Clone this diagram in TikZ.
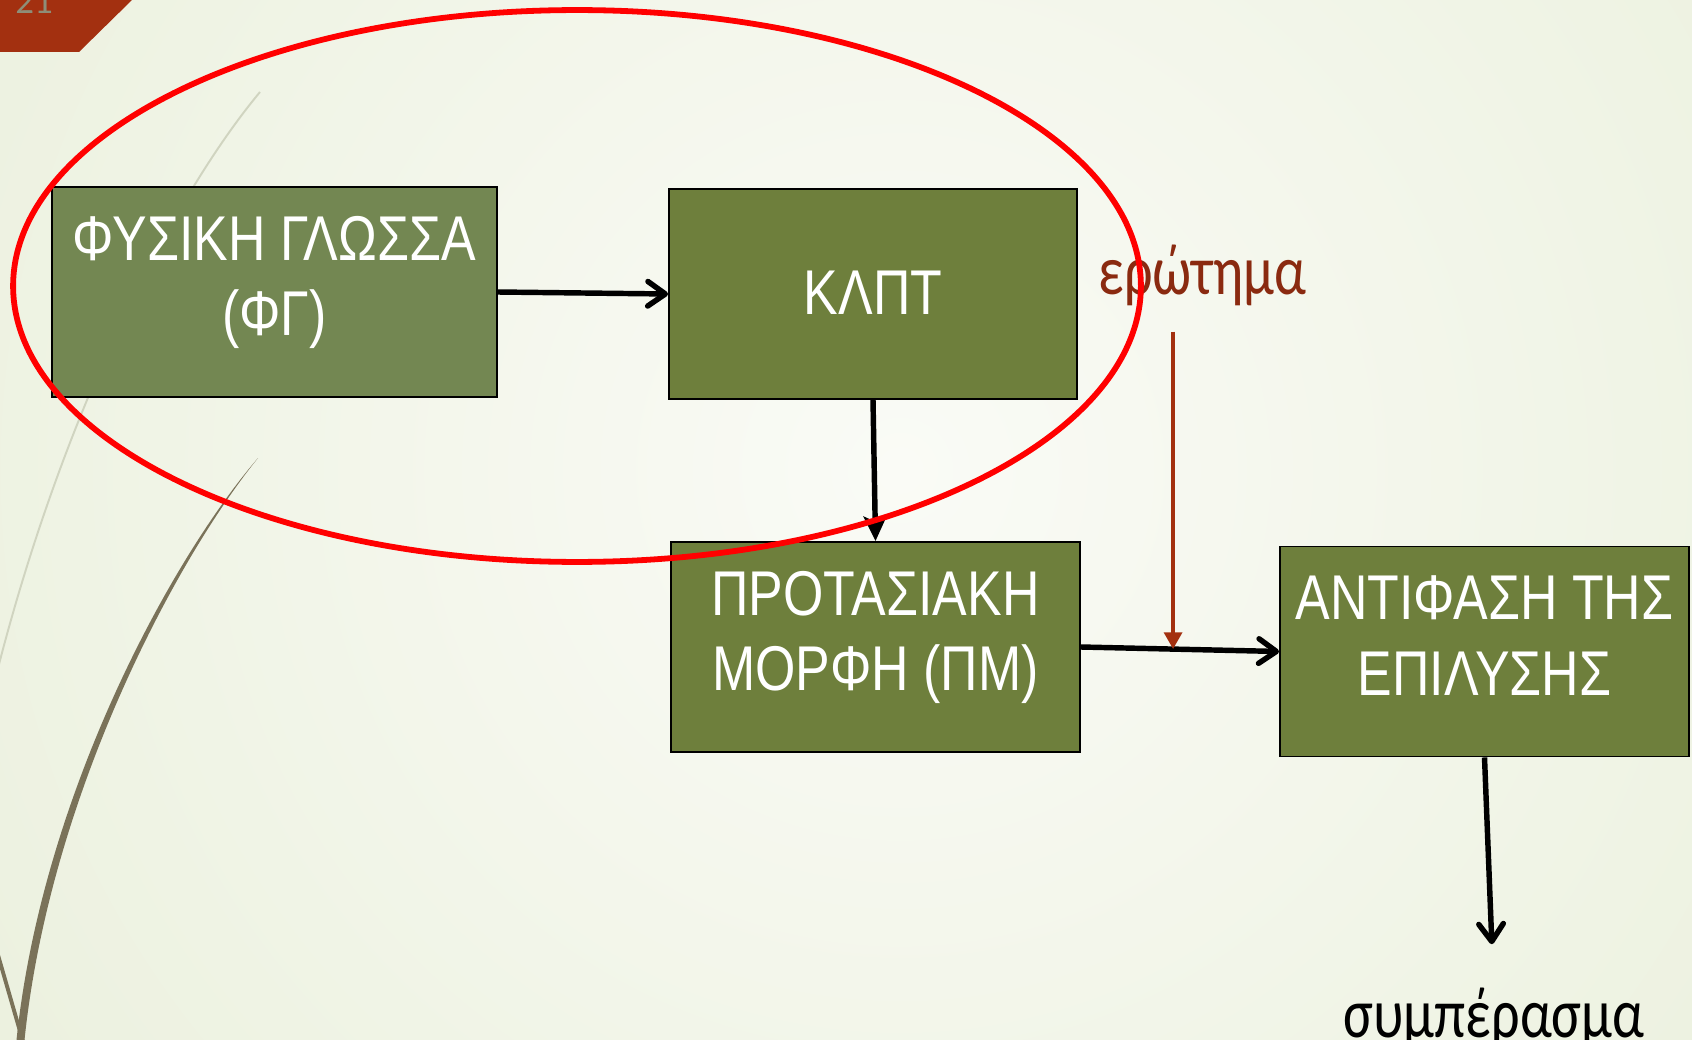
\documentclass[tikz,border=0pt]{standalone}
\usepackage{fontspec}
\setmainfont{Liberation Sans}
\newfontfamily\narrowsans[FakeStretch=0.82]{Liberation Sans}
\newfontfamily\labelsans[FakeStretch=0.8]{Carlito}
\newfontfamily\pagesans{Carlito}
\usetikzlibrary{arrows.meta,calc}

\definecolor{bgin}{HTML}{FAFBF6}
\definecolor{bgout}{HTML}{E2EACF}
\definecolor{boxgreen}{HTML}{6E7F3C}
\definecolor{boxgreenlight}{HTML}{738752}
\definecolor{cornerred}{HTML}{A33010}
\definecolor{askred}{HTML}{A3300F}
\definecolor{asktext}{HTML}{8A2A10}
\definecolor{stem}{HTML}{7A7259}
\definecolor{stemlight}{HTML}{D0D4C0}
\definecolor{pagegray}{HTML}{8E8E78}

\tikzset{
  stagebox/.style={draw=black, line width=1.1pt, fill=boxgreen, text=white,
    font=\narrowsans\fontsize{36}{43}\selectfont, align=center, inner sep=0pt,
    minimum height=4.2cm, text height=2.46cm, text depth=0.7cm},
  oneline/.style={text height=1cm, text depth=0.16cm},
  conn/.style={line width=3.1pt,
    -{Straight Barb[length=10pt,width=14pt,line cap=round,line join=round]}},
  connfilled/.style={line width=3.1pt, -{Stealth[length=14pt,width=13pt,inset=3pt]}},
  askarrow/.style={draw=askred, line width=2.7pt,
    -{Triangle[length=9.5pt,width=10pt]}},
  sidetext/.style={font=\labelsans\fontsize{40}{48}\selectfont, inner sep=0pt},
}

\begin{document}
\begin{tikzpicture}[x=0.02cm, y=-0.02cm]
\useasboundingbox (0,0) rectangle (1692,1040);

% background
\fill[bgout] (0,0) rectangle (1692,1040);
\begin{scope}
  \clip (0,0) rectangle (1692,1040);
  \shade[inner color=bgin, outer color=bgout] (900,470) circle (36cm);
  % decorative stems
  \draw[stemlight, line width=1.1pt] (260,92) .. controls (170,200) and (60,420) .. (-5,680);
  \fill[stem] (258,458) .. controls (170,560) and (40,800) .. (16,1045)
    -- (24,1045) .. controls (48,800) and (174,562) .. (258,458) -- cycle;
  \draw[stem, line width=2.2pt] (-2,955) -- (24,1045);
  % page tab
  \fill[cornerred] (0,0) -- (132,0) -- (79,52) -- (0,52) -- cycle;
  \node[font=\pagesans\fontsize{21}{24}\selectfont, text=pagegray, anchor=base west,
    inner sep=0pt] (page) at (15,14) {21};
\end{scope}

% stages
\node[stagebox, fill=boxgreenlight, minimum width=8.9cm] (fg) at (274.5,292)
  {ΦΥΣΙΚΗ ΓΛΩΣΣΑ\\(ΦΓ)};
\node[stagebox, oneline, minimum width=8.16cm] (klpt) at (873,294) {ΚΛΠΤ};
\node[stagebox, minimum width=8.18cm] (pm) at (875.5,647)
  {ΠΡΟΤΑΣΙΑΚΗ\\ΜΟΡΦΗ (ΠΜ)};
\node[stagebox, minimum width=8.18cm] (ant) at (1484.5,651.5)
  {ΑΝΤΙΦΑΣΗ ΤΗΣ\\ΕΠΙΛΥΣΗΣ};

% side labels
\node[sidetext, text=asktext, anchor=base west] (q) at (1098,295) {ερώτημα};
\node[sidetext, text=black, anchor=base west] (concl) at (1343,1037) {συμπέρασμα};

% connectors
\draw[conn] (fg.east) -- (klpt.west);
\draw[connfilled] (klpt.south) -- (pm.north);
\draw[conn] (pm.east) -- coordinate[pos=0.465] (hit) (ant.west);
\draw[conn, shorten >=0.86cm] (ant.south) -- (concl.north);
\draw[askarrow, shorten <=0.5cm] (q.south -| hit) -- (hit);

% grouping ellipse
\draw[red, line width=3.3pt] (577,286) ellipse [x radius=11.28cm, y radius=5.52cm];
\end{tikzpicture}
\end{document}
